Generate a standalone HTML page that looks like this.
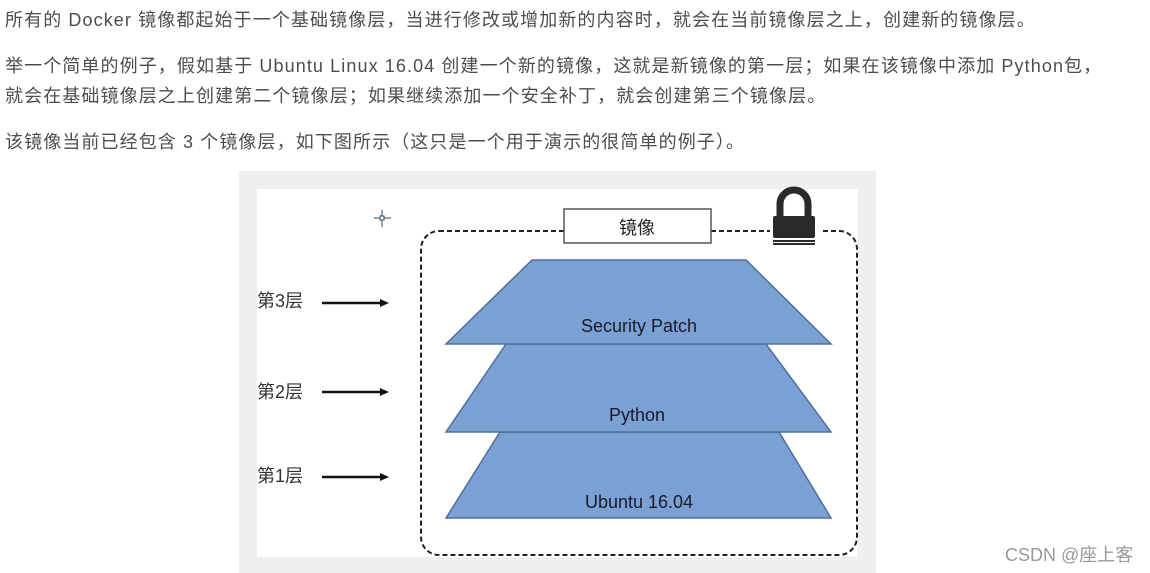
<!DOCTYPE html>
<html><head><meta charset="utf-8"><style>
html,body{margin:0;padding:0;background:#fff;width:1150px;height:573px;overflow:hidden;position:relative}
.t{position:absolute;left:5px;font-family:"Liberation Sans","Noto Sans CJK SC",sans-serif;font-size:18px;letter-spacing:1.1px;color:#4d4d4d;white-space:nowrap;line-height:20px}
</style></head><body>
<div class="t" style="top:10px">所有的 Docker 镜像都起始于一个基础镜像层，当进行修改或增加新的内容时，就会在当前镜像层之上，创建新的镜像层。</div>
<div class="t" style="top:56px">举一个简单的例子，假如基于 Ubuntu Linux 16.04 创建一个新的镜像，这就是新镜像的第一层；如果在该镜像中添加 Python包，</div>
<div class="t" style="top:86px">就会在基础镜像层之上创建第二个镜像层；如果继续添加一个安全补丁，就会创建第三个镜像层。</div>
<div class="t" style="top:132px">该镜像当前已经包含 3 个镜像层，如下图所示（这只是一个用于演示的很简单的例子）。</div>
<svg style="position:absolute;left:0;top:0" width="1150" height="573" font-family="'Liberation Sans','Noto Sans CJK SC',sans-serif">
<rect x="239" y="171" width="637" height="402" fill="#efefef"/>
<rect x="257" y="189" width="601" height="368" fill="#fff"/>
<rect x="421" y="231" width="436" height="324" rx="18" fill="none" stroke="#222" stroke-width="2" stroke-dasharray="5,3"/>
<rect x="564" y="209" width="147" height="34" fill="#fff" stroke="#555" stroke-width="1.5"/>
<text x="637" y="234" font-size="18" text-anchor="middle" fill="#222">镜像</text>
<rect x="770" y="200" width="50" height="44" fill="#fff"/>
<path d="M780 218 V204 a14 14 0 0 1 28 0 V218" fill="none" stroke="#2a2a2a" stroke-width="7"/>
<rect x="773" y="216" width="42" height="22" rx="2" fill="#2a2a2a"/>
<rect x="773" y="240" width="42" height="2" fill="#2a2a2a"/>
<rect x="773" y="243" width="42" height="2" fill="#2a2a2a"/>
<polygon points="500,432 779,432 831,518 446,518" fill="#7ba0d4" stroke="#4f6f9a" stroke-width="1.5"/>
<polygon points="506,344 766,344 831,432 446,432" fill="#7ba0d4" stroke="#4f6f9a" stroke-width="1.5"/>
<polygon points="532,260 746,260 831,344 446,344" fill="#7ba0d4" stroke="#4f6f9a" stroke-width="1.5"/>
<text x="639" y="332" font-size="18" text-anchor="middle" fill="#1a1a2a">Security Patch</text>
<text x="637" y="421" font-size="18" text-anchor="middle" fill="#1a1a2a">Python</text>
<text x="639" y="508" font-size="18" text-anchor="middle" fill="#1a1a2a">Ubuntu 16.04</text>
<g font-size="18" fill="#333">
<text x="257" y="307">第3层</text><text x="257" y="398">第2层</text><text x="257" y="482">第1层</text></g>
<g stroke="#111" stroke-width="2.5"><line x1="322" y1="303" x2="382" y2="303"/><line x1="322" y1="392" x2="382" y2="392"/><line x1="322" y1="477" x2="382" y2="477"/></g>
<g fill="#111"><polygon points="380,299 389,303 380,307"/><polygon points="380,388 389,392 380,396"/><polygon points="380,473 389,477 380,481"/></g>
<g stroke="#2a4a60" stroke-width="1"><line x1="382" y1="210" x2="382" y2="227"/><line x1="374" y1="218" x2="391" y2="218"/></g>
<rect x="380" y="216" width="4" height="4" fill="#fff" stroke="#2a4a60"/>
<text x="1005" y="561" font-size="18" fill="#999">CSDN @座上客</text>
</svg>
</body></html>
